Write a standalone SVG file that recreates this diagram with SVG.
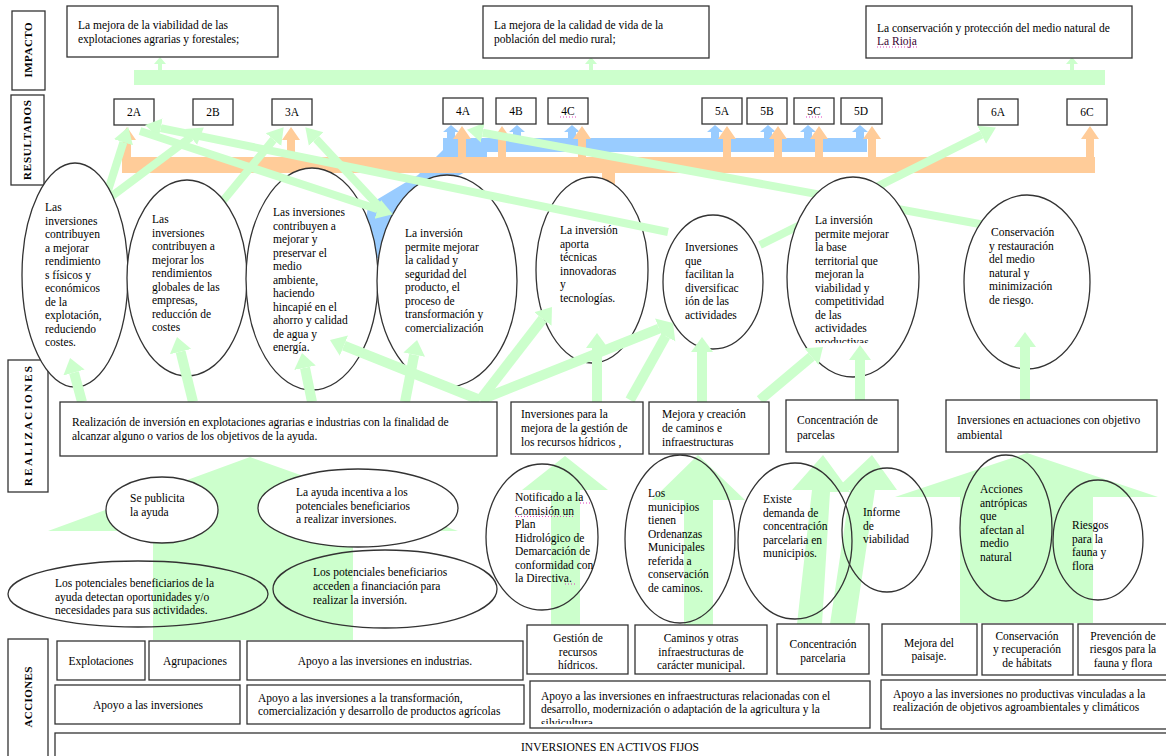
<svg xmlns="http://www.w3.org/2000/svg" width="1166" height="756" viewBox="0 0 1166 756">
<style>
.box{fill:#fff;stroke:#333;stroke-width:1.3}
.el{fill:#fff;stroke:#333;stroke-width:1.3}
.eln{fill:none;stroke:#333;stroke-width:1.3}
.t{font-family:"Liberation Serif","Times New Roman",serif;font-size:11.5px;fill:#000}
.tc{font-family:"Liberation Serif","Times New Roman",serif;font-size:11.5px;fill:#000;text-anchor:middle}
.lab{font-family:"Liberation Serif","Times New Roman",serif;font-size:11px;font-weight:bold;fill:#000;text-anchor:middle}
.g{fill:#ccffcc}
.o{fill:#ffcc99}
.b{fill:#99ccff}
.gl{stroke:#ccffcc;stroke-width:8;fill:none;marker-end:url(#gh)}
.va{stroke:#ccffcc;stroke-width:10;fill:none;marker-end:url(#gh2)}
.sp{stroke:#e040c0;stroke-width:1;stroke-dasharray:1 2;fill:none}
</style>
<defs>
<marker id="gh" markerUnits="userSpaceOnUse" markerWidth="18" markerHeight="24" viewBox="0 -12 18 24" refX="0" refY="0" orient="auto"><path d="M0,-10 L16,0 L0,10 z" fill="#ccffcc"/></marker>
<marker id="gh2" markerUnits="userSpaceOnUse" markerWidth="18" markerHeight="26" viewBox="0 -13 18 26" refX="0" refY="0" orient="auto"><path d="M0,-11 L15,0 L0,11 z" fill="#ccffcc"/></marker>
<clipPath id="c7"><rect x="780" y="170" width="150" height="173"/></clipPath>
<clipPath id="c9"><rect x="530" y="681" width="340" height="43"/></clipPath>
</defs>

<!-- background big arrows -->
<g id="big-arrows">
<polygon class="g" points="153,640 153,531 48,531 250,457 458,531 353,531 353,640"/>
<polygon class="g" points="551,625 551,490 522,490 565,456 608,490 580,490 580,625"/>
<polygon class="g" points="684,625 684,500 652,500 698,455 745,500 713,500 713,625"/>
<polygon class="g" points="797,624 812,490 792,490 823,455 850,492 830,492 822,624"/>
<polygon class="g" points="830,624 850,490 835,490 872,455 897,490 875,490 855,624"/>
<polygon class="g" points="960,623 960,497 895,497 1027,453 1158,497 1093,497 1093,623"/>
</g>

<!-- connectors (behind nodes) -->
<g id="connectors">
<rect class="g" x="134" y="70" width="971" height="15"/>
<polygon class="g" points="158,70 158,64 154,64 160,57 166,64 162,64 162,70"/>
<polygon class="g" points="589,70 589,64 585,64 591,57 597,64 593,64 593,70"/>
<polygon class="g" points="1070,70 1070,64 1066,64 1072,57 1078,64 1074,64 1074,70"/>
<polygon class="b" points="443,150 487,150 487,160 440,186 402,215 392,258 362,258 368,205 418,175"/>
<rect class="o" x="122" y="157" width="973" height="16"/>
<rect class="o" x="602" y="170" width="13" height="20"/>
<rect class="b" x="443" y="138" width="424" height="14"/>
<g class="b">
<polygon points="447,138 447,132 443,132 451,125 459,132 455,132 455,138"/>
<polygon points="513,138 513,132 509,132 517,125 525,132 521,132 521,138"/>
<polygon points="568,138 568,132 564,132 572,125 580,132 576,132 576,138"/>
<polygon points="711,138 711,132 707,132 715,125 723,132 719,132 719,138"/>
<polygon points="764,138 764,132 760,132 768,125 776,132 772,132 772,138"/>
<polygon points="804,138 804,132 800,132 808,125 816,132 812,132 812,138"/>
<polygon points="856,138 856,132 852,132 860,125 868,132 864,132 864,138"/>
</g>
<g class="o">
<polygon points="123,157 123,140 118,140 127,127 136,140 131,140 131,157"/>
<polygon points="287,157 287,140 282,140 291,127 300,140 295,140 295,157"/>
<polygon points="458,157 458,139 453,139 462,126 471,139 466,139 466,157"/>
<polygon points="498,157 498,139 493,139 502,126 511,139 506,139 506,157"/>
<polygon points="578,157 578,139 573,139 582,126 591,139 586,139 586,157"/>
<polygon points="723,157 723,139 718,139 727,126 736,139 731,139 731,157"/>
<polygon points="774,157 774,139 769,139 778,126 787,139 782,139 782,157"/>
<polygon points="815,157 815,139 810,139 819,126 828,139 823,139 823,157"/>
<polygon points="868,157 868,139 863,139 872,126 881,139 876,139 876,157"/>
<polygon points="1086,157 1086,139 1081,139 1090,126 1099,139 1094,139 1094,157"/>
</g>
<line class="gl" x1="105" y1="200" x2="123.4" y2="142.3"/>
<line class="gl" x1="112" y1="196" x2="191" y2="137"/>
<line class="gl" x1="222" y1="202" x2="273.5" y2="139.6"/>
<line class="gl" x1="385" y1="213" x2="316.2" y2="139"/>
<line class="gl" x1="985" y1="225" x2="482.7" y2="132.7"/>
<line class="gl" x1="760" y1="245" x2="981.6" y2="134.7"/>
</g>

<!-- left labels -->
<g id="labels">
<rect class="box" x="12" y="11" width="33" height="79"/>
<text class="lab" transform="translate(32,50) rotate(-90)" textLength="55" lengthAdjust="spacing">IMPACTO</text>
<rect class="box" x="11" y="95" width="33" height="90"/>
<text class="lab" transform="translate(31,140) rotate(-90)" textLength="80" lengthAdjust="spacing">RESULTADOS</text>
<rect class="box" x="8" y="360" width="40" height="132"/>
<text class="lab" transform="translate(32,426) rotate(-90)" textLength="120" lengthAdjust="spacing">REALIZACIONES</text>
<rect class="box" x="8" y="639" width="40" height="125"/>
<text class="lab" transform="translate(32,697) rotate(-90)" textLength="61" lengthAdjust="spacing">ACCIONES</text>
</g>

<!-- impact -->
<g id="imp1"><rect class="box" x="67" y="6" width="211" height="51"/><text class="t" x="78" y="29">La mejora de la viabilidad de las</text><text class="t" x="78" y="43">explotaciones agrarias y forestales;</text></g>
<g id="imp2"><rect class="box" x="483" y="6" width="226" height="52"/><text class="t" x="494" y="29">La mejora de la calidad de vida de la</text><text class="t" x="494" y="43">población del medio rural;</text></g>
<g id="imp3"><rect class="box" x="866" y="6" width="266" height="52"/><text class="t" x="877" y="32">La conservación y protección del medio natural de</text><text class="t" x="877" y="45" style="fill:#3a0030">La Rioja</text><line class="sp" x1="877" y1="47" x2="917" y2="47"/></g>

<!-- result boxes -->
<g id="r2A"><rect class="box" x="114" y="99" width="40" height="26"/><text class="tc" x="134" y="116">2A</text></g>
<g id="r2B"><rect class="box" x="193" y="99" width="40" height="26"/><text class="tc" x="213" y="116">2B</text></g>
<g id="r3A"><rect class="box" x="272" y="99" width="40" height="26"/><text class="tc" x="292" y="116">3A</text></g>
<g id="r4A"><rect class="box" x="443" y="98" width="40" height="26"/><text class="tc" x="463" y="115">4A</text></g>
<g id="r4B"><rect class="box" x="496" y="98" width="40" height="26"/><text class="tc" x="516" y="115">4B</text></g>
<g id="r4C"><rect class="box" x="548" y="98" width="40" height="26"/><text class="tc" x="568" y="115">4C</text><line class="sp" x1="560" y1="117" x2="576" y2="117"/></g>
<g id="r5A"><rect class="box" x="702" y="98" width="40" height="26"/><text class="tc" x="722" y="115">5A</text></g>
<g id="r5B"><rect class="box" x="747" y="98" width="40" height="26"/><text class="tc" x="767" y="115">5B</text></g>
<g id="r5C"><rect class="box" x="794" y="98" width="40" height="26"/><text class="tc" x="814" y="115">5C</text><line class="sp" x1="806" y1="117" x2="822" y2="117"/></g>
<g id="r5D"><rect class="box" x="841" y="98" width="41" height="26"/><text class="tc" x="861" y="115">5D</text></g>
<g id="r6A"><rect class="box" x="978" y="99" width="40" height="26"/><text class="tc" x="998" y="116">6A</text></g>
<g id="r6C"><rect class="box" x="1067" y="99" width="40" height="26"/><text class="tc" x="1087" y="116">6C</text></g>

<!-- result ellipses -->
<g id="e1"><ellipse class="el" cx="75" cy="275" rx="53" ry="112"/><text class="t"><tspan x="45" y="211">Las</tspan><tspan x="45" y="224.5">inversiones</tspan><tspan x="45" y="238">contribuyen</tspan><tspan x="45" y="251.5">a mejorar</tspan><tspan x="45" y="265">rendimiento</tspan><tspan x="45" y="278.5">s físicos y</tspan><tspan x="45" y="292">económicos</tspan><tspan x="45" y="305.5">de la</tspan><tspan x="45" y="319">explotación,</tspan><tspan x="45" y="332.5">reduciendo</tspan><tspan x="45" y="346">costes.</tspan></text></g>
<g id="e2"><ellipse class="el" cx="187" cy="278" rx="60" ry="98"/><text class="t"><tspan x="152" y="223">Las</tspan><tspan x="152" y="236.5">inversiones</tspan><tspan x="152" y="250">contribuyen a</tspan><tspan x="152" y="263.5">mejorar  los</tspan><tspan x="152" y="277">rendimientos</tspan><tspan x="152" y="290.5">globales de las</tspan><tspan x="152" y="304">empresas,</tspan><tspan x="152" y="317.5">reducción de</tspan><tspan x="152" y="331">costes</tspan></text></g>
<g id="e3"><ellipse class="el" cx="312" cy="279" rx="66" ry="111"/><text class="t"><tspan x="273" y="216">Las inversiones</tspan><tspan x="273" y="229.5">contribuyen a</tspan><tspan x="273" y="243">mejorar y</tspan><tspan x="273" y="256.5">preservar el</tspan><tspan x="273" y="270">medio</tspan><tspan x="273" y="283.5">ambiente,</tspan><tspan x="273" y="297">haciendo</tspan><tspan x="273" y="310.5">hincapié en el</tspan><tspan x="273" y="324">ahorro y calidad</tspan><tspan x="273" y="337.5">de agua y</tspan><tspan x="273" y="351">energía.</tspan></text></g>
<g id="e4"><ellipse class="el" cx="447" cy="281" rx="70" ry="106"/><text class="t"><tspan x="405" y="237">La inversión</tspan><tspan x="405" y="250.5">permite mejorar</tspan><tspan x="405" y="264">la calidad y</tspan><tspan x="405" y="277.5">seguridad del</tspan><tspan x="405" y="291">producto, el</tspan><tspan x="405" y="304.5">proceso de</tspan><tspan x="405" y="318">transformación y</tspan><tspan x="405" y="331.5">comercialización</tspan></text></g>
<g id="e5"><ellipse class="el" cx="592" cy="270" rx="56" ry="93"/><text class="t"><tspan x="560" y="234">La inversión</tspan><tspan x="560" y="247.5">aporta</tspan><tspan x="560" y="261">técnicas</tspan><tspan x="560" y="274.5">innovadoras</tspan><tspan x="560" y="288">y</tspan><tspan x="560" y="301.5">tecnologías.</tspan></text></g>
<g id="e6"><ellipse class="el" cx="713" cy="282" rx="50" ry="67"/><text class="t"><tspan x="685" y="251">Inversiones</tspan><tspan x="685" y="264.5">que</tspan><tspan x="685" y="278">facilitan la</tspan><tspan x="685" y="291.5">diversificac</tspan><tspan x="685" y="305">ión de las</tspan><tspan x="685" y="318.5">actividades</tspan></text></g>
<g id="e7"><ellipse class="el" cx="853" cy="277" rx="66" ry="100"/><text class="t" clip-path="url(#c7)"><tspan x="815" y="224">La inversión</tspan><tspan x="815" y="237.5">permite mejorar</tspan><tspan x="815" y="251">la base</tspan><tspan x="815" y="264.5">territorial que</tspan><tspan x="815" y="278">mejoran la</tspan><tspan x="815" y="291.5">viabilidad y</tspan><tspan x="815" y="305">competitividad</tspan><tspan x="815" y="318.5">de las</tspan><tspan x="815" y="332">actividades</tspan><tspan x="815" y="345.5">productivas</tspan></text></g>
<g id="e8"><ellipse class="el" cx="1027" cy="282" rx="63" ry="87"/><text class="t"><tspan x="991" y="236">Conservación</tspan><tspan x="989" y="249.5">y restauración</tspan><tspan x="989" y="263">del medio</tspan><tspan x="989" y="276.5">natural y</tspan><tspan x="989" y="290">minimización</tspan><tspan x="989" y="303.5">de riesgo.</tspan></text></g>

<!-- connectors in front of nodes -->
<g id="connectors-front">
<line class="gl" x1="668" y1="232" x2="160.7" y2="128.2"/>
<line class="gl" x1="140" y1="131" x2="377.7" y2="209.3"/>
<line class="va" x1="82" y1="402" x2="74" y2="372.5"/>
<line class="va" x1="193" y1="402" x2="180.6" y2="351.6"/>
<line class="va" x1="312" y1="402" x2="305" y2="367.7"/>
<line class="va" x1="405" y1="402" x2="414.2" y2="354.7"/>
<line class="va" x1="480" y1="400" x2="542.8" y2="318.9"/>
<line class="va" x1="480" y1="400" x2="343.9" y2="345.6"/>
<line class="va" x1="480" y1="400" x2="659.1" y2="328.6"/>
<line class="va" x1="630" y1="400" x2="665.7" y2="336.1"/>
<line class="va" x1="597" y1="402" x2="597" y2="348"/>
<line class="va" x1="702" y1="402" x2="702" y2="352"/>
<line class="va" x1="760" y1="400" x2="811.5" y2="356.7"/>
<line class="va" x1="860" y1="402" x2="860" y2="360"/>
<line class="va" x1="1025" y1="402" x2="1025" y2="347"/>
</g>

<!-- realizaciones -->
<g id="re1"><rect class="box" x="60" y="402" width="437" height="54"/><text class="t"><tspan x="72" y="426">Realización de inversión en explotaciones agrarias e industrias con la finalidad de</tspan><tspan x="72" y="440">alcanzar alguno o varios de los objetivos de la ayuda.</tspan></text></g>
<g id="re2"><rect class="box" x="511" y="402" width="132" height="52"/><text class="t"><tspan x="521" y="418">Inversiones para la</tspan><tspan x="521" y="432">mejora de la gestión de</tspan><tspan x="521" y="446">los recursos hídricos ,</tspan></text></g>
<g id="re3"><rect class="box" x="649" y="402" width="120" height="52"/><text class="t"><tspan x="662" y="418">Mejora y creación</tspan><tspan x="662" y="432">de caminos e</tspan><tspan x="662" y="446">infraestructuras</tspan></text></g>
<g id="re4"><rect class="box" x="786" y="400" width="112" height="52"/><text class="t"><tspan x="797" y="424">Concentración de</tspan><tspan x="797" y="439">parcelas</tspan></text></g>
<g id="re5"><rect class="box" x="946" y="400" width="211" height="52"/><text class="t"><tspan x="957" y="424">Inversiones en actuaciones con objetivo</tspan><tspan x="957" y="439">ambiental</tspan></text></g>

<!-- lower ellipses -->
<g id="l1"><ellipse class="el" cx="162" cy="510" rx="56" ry="33"/><text class="t"><tspan x="130" y="502">Se publicita</tspan><tspan x="130" y="516">la ayuda</tspan></text></g>
<g id="l2"><ellipse class="el" cx="358" cy="508" rx="100" ry="39"/><text class="t"><tspan x="296" y="496">La ayuda incentiva a los</tspan><tspan x="296" y="510">potenciales beneficiarios</tspan><tspan x="296" y="523">a realizar inversiones.</tspan></text></g>
<g id="l3"><ellipse class="eln" cx="138" cy="594" rx="130" ry="33"/><text class="t"><tspan x="55" y="587">Los potenciales beneficiarios de la</tspan><tspan x="55" y="601">ayuda detectan oportunidades y/o</tspan><tspan x="55" y="614">necesidades para sus actividades.</tspan></text></g>
<g id="l4"><ellipse class="eln" cx="385" cy="589" rx="112" ry="39"/><text class="t"><tspan x="313" y="576">Los potenciales beneficiarios</tspan><tspan x="313" y="590">acceden a financiación para</tspan><tspan x="313" y="604">realizar la inversión.</tspan></text></g>
<g id="l5"><ellipse class="eln" cx="542" cy="537" rx="56" ry="73"/><text class="t"><tspan x="515" y="501">Notificado a la</tspan><tspan x="515" y="514.5">Comisión un</tspan><tspan x="515" y="528">Plan</tspan><tspan x="515" y="541.5">Hidrológico de</tspan><tspan x="515" y="555">Demarcación de</tspan><tspan x="515" y="568.5">conformidad con</tspan><tspan x="515" y="582">la Directiva.</tspan></text><line class="sp" x1="580" y1="503" x2="590" y2="503"/><line class="sp" x1="515" y1="516.5" x2="575" y2="516.5"/><line class="sp" x1="565" y1="584" x2="575" y2="584"/></g>
<g id="l6"><ellipse class="eln" cx="680" cy="539" rx="55" ry="84"/><text class="t"><tspan x="648" y="497">Los</tspan><tspan x="648" y="510.5">municipios</tspan><tspan x="648" y="524">tienen</tspan><tspan x="648" y="537.5">Ordenanzas</tspan><tspan x="648" y="551">Municipales</tspan><tspan x="648" y="564.5">referida  a</tspan><tspan x="648" y="578">conservación</tspan><tspan x="648" y="591.5">de caminos.</tspan></text></g>
<g id="l7"><ellipse class="eln" cx="795" cy="541" rx="57" ry="78"/><text class="t"><tspan x="763" y="503">Existe</tspan><tspan x="763" y="516.5">demanda de</tspan><tspan x="763" y="530">concentración</tspan><tspan x="763" y="543.5">parcelaria en</tspan><tspan x="763" y="557">municipios.</tspan></text></g>
<g id="l8"><ellipse class="eln" cx="887" cy="530" rx="45" ry="62"/><text class="t"><tspan x="863" y="516">Informe</tspan><tspan x="863" y="530">de</tspan><tspan x="863" y="543">viabilidad</tspan></text></g>
<g id="l9"><ellipse class="eln" cx="1006" cy="528" rx="46" ry="73"/><text class="t"><tspan x="980" y="493">Acciones</tspan><tspan x="980" y="506.5">antrópicas</tspan><tspan x="980" y="520">que</tspan><tspan x="980" y="533.5">afectan al</tspan><tspan x="980" y="547">medio</tspan><tspan x="980" y="560.5">natural</tspan></text></g>
<g id="l10"><ellipse class="eln" cx="1098" cy="540" rx="45" ry="60"/><text class="t"><tspan x="1072" y="529">Riesgos</tspan><tspan x="1072" y="542.5">para la</tspan><tspan x="1072" y="556">fauna y</tspan><tspan x="1072" y="569.5">flora</tspan></text></g>

<!-- acciones -->
<g id="a1"><rect class="box" x="57" y="641" width="88" height="39"/><text class="tc" x="101" y="665">Explotaciones</text></g>
<g id="a2"><rect class="box" x="149" y="641" width="91" height="39"/><text class="tc" x="195" y="665">Agrupaciones</text></g>
<g id="a3"><rect class="box" x="247" y="641" width="276" height="39"/><text class="tc" x="385" y="665">Apoyo a las inversiones en industrias.</text></g>
<g id="a4"><rect class="box" x="55" y="685" width="185" height="39"/><text class="tc" x="148" y="709">Apoyo a las inversiones</text></g>
<g id="a5"><rect class="box" x="247" y="685" width="277" height="39"/><text class="t"><tspan x="258" y="702">Apoyo a las inversiones a la transformación,</tspan><tspan x="258" y="715">comercialización y desarrollo de productos agrícolas</tspan></text></g>
<g id="a6"><rect class="box" x="527" y="625" width="101" height="49"/><text class="tc"><tspan x="578" y="642">Gestión de</tspan><tspan x="578" y="656">recursos</tspan><tspan x="578" y="669">hídricos.</tspan></text></g>
<g id="a7"><rect class="box" x="635" y="625" width="132" height="49"/><text class="tc"><tspan x="701" y="642">Caminos y otras</tspan><tspan x="701" y="656">infraestructuras de</tspan><tspan x="701" y="669">carácter municipal.</tspan></text></g>
<g id="a8"><rect class="box" x="777" y="624" width="92" height="50"/><text class="tc"><tspan x="823" y="648">Concentración</tspan><tspan x="823" y="662">parcelaria</tspan></text></g>
<g id="a9"><rect class="box" x="530" y="681" width="340" height="47"/><text class="t" clip-path="url(#c9)"><tspan x="541" y="700">Apoyo a las inversiones en infraestructuras relacionadas con el</tspan><tspan x="541" y="713">desarrollo, modernización o adaptación de la agricultura y la</tspan><tspan x="541" y="727">silvicultura</tspan></text></g>
<g id="a10"><rect class="box" x="882" y="624" width="95" height="51"/><text class="tc"><tspan x="929" y="647">Mejora del</tspan><tspan x="929" y="660">paisaje.</tspan></text></g>
<g id="a11"><rect class="box" x="982" y="624" width="91" height="51"/><text class="tc"><tspan x="1027" y="640">Conservación</tspan><tspan x="1027" y="653">y recuperación</tspan><tspan x="1027" y="667">de hábitats</tspan></text></g>
<g id="a12"><rect class="box" x="1078" y="624" width="95" height="51"/><text class="tc"><tspan x="1123" y="640">Prevención de</tspan><tspan x="1123" y="653">riesgos para la</tspan><tspan x="1123" y="667">fauna y flora</tspan></text></g>
<g id="a13"><rect class="box" x="881" y="680" width="290" height="49"/><text class="t"><tspan x="893" y="698">Apoyo a las inversiones no productivas vinculadas a la</tspan><tspan x="893" y="711">realización de objetivos agroambientales y climáticos</tspan></text></g>
<g id="a14"><rect class="box" x="55" y="733" width="1120" height="30"/><text class="tc" x="610" y="751">INVERSIONES EN ACTIVOS FIJOS</text></g>
</svg>
